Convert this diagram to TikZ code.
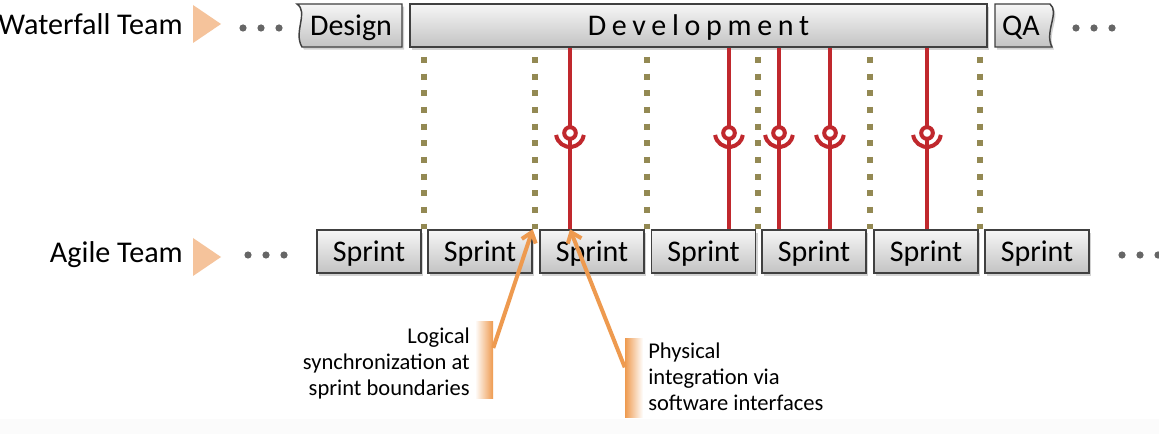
\documentclass[tikz,border=0pt]{standalone}
\usepackage{fontspec}
\setmainfont{Carlito}
\newfontfamily\spacedfont[LetterSpace=19]{Carlito}
\usetikzlibrary{arrows.meta,shadows}

\definecolor{boxline}{HTML}{404040}
\definecolor{boxtop}{HTML}{F6F6F6}
\definecolor{boxbot}{HTML}{C3C3C3}
\definecolor{syncol}{HTML}{938953}
\definecolor{intcol}{HTML}{C0282D}
\definecolor{callout}{HTML}{EE9A4F}
\definecolor{marker}{HTML}{F5C39B}
\definecolor{dotgray}{HTML}{666666}

\begin{document}
\begin{tikzpicture}[x=0.75pt,y=-0.75pt,
  boxshade/.style={draw=boxline, line width=1.1pt, top color=boxtop, bottom color=boxbot,
    drop shadow={shadow xshift=1.5pt, shadow yshift=-2pt, opacity=0.35}},
  boxtext/.style={font=\fontsize{22.5}{26}\selectfont, inner sep=0pt, text height=16.5pt, text depth=2pt},
  sprintbox/.style={boxshade, boxtext, minimum width=78pt, minimum height=32.25pt},
  teamlabel/.style={font=\fontsize{22.6}{26}\selectfont, inner sep=0pt, anchor=base east},
  calltext/.style={font=\fontsize{16.9}{19.5}\selectfont, inner sep=0pt},
  syncline/.style={draw=syncol, line width=4.5pt, dash pattern=on 4.5pt off 8pt},
  intline/.style={draw=intcol, line width=3pt},
  callarrow/.style={draw=callout, line width=3pt, -{Straight Barb[length=7pt, width=11pt, line width=3pt]}},
  bar/.style={minimum width=13.5pt, inner sep=0pt},
  marker/.style={fill=marker},
  moredots/.style={fill=dotgray}
]
% canvas
\useasboundingbox (0,0) rectangle (1159,434);
\fill[white] (0,0) rectangle (1159,434);
\fill[gray!3] (0,419) rectangle (1159,434);

% team labels with markers and ellipses
\node[teamlabel] (wf) at (183,35) {Waterfall Team};
\node[teamlabel] (ag) at (183,263) {Agile Team};
\fill[marker] (193,5) -- (221,24) -- (193,43) -- cycle;
\fill[marker] (193,238) -- (221,257) -- (193,276) -- cycle;
\foreach \x in {243,261,279} \fill[moredots] (\x,28) circle[radius=3.6];
\foreach \x in {1076,1094,1112} \fill[moredots] (\x,28) circle[radius=3.6];
\foreach \x in {248,266,284} \fill[moredots] (\x,255) circle[radius=3.6];
\foreach \x in {1122,1140,1158} \fill[moredots] (\x,255) circle[radius=3.6];

% waterfall phases
\path[boxshade] (297,4) .. controls (309,12) and (293,32) .. (302,47) -- (402,47) -- (402,4) -- cycle;
\node[boxtext] (design) at (351,25.5) {Design};
\node[boxshade, minimum width=432.75pt, minimum height=32.25pt, inner sep=0pt] (dev) at (698.5,25.5) {};
\node[boxtext, font=\fontsize{22.5}{26}\spacedfont] (devtext) at (698.5,25.5) {Development};
\path[boxshade] (995,4) -- (1050,4) .. controls (1060,12) and (1044,32) .. (1052,47) -- (995,47) -- cycle;
\node[boxtext] (qa) at (1021,25.5) {QA};

% sprints
\node[sprintbox] (s1) at (369,251.5) {Sprint};
\node[sprintbox] (s2) at (480,251.5) {Sprint};
\node[sprintbox] (s3) at (592,251.5) {Sprint};
\node[sprintbox] (s4) at (703.5,251.5) {Sprint};
\node[sprintbox] (s5) at (814,251.5) {Sprint};
\node[sprintbox] (s6) at (926,251.5) {Sprint};
\node[sprintbox] (s7) at (1037,251.5) {Sprint};

% logical synchronization at sprint boundaries
\foreach \x/\s in {424/s1,535/s2,647/s3,758/s4,870/s5,980/s6}
  \draw[syncline] (\x,57) -- (\x,0 |- \s.north);

% physical integration via interfaces (ball and socket)
\foreach \x/\s in {570/s3,729/s4,779/s5,830/s5,927/s6}{
  \draw[intline] (\x,0 |- dev.south) -- (\x,0 |- \s.north);
  \draw[intline, fill=white] (\x,133) circle[radius=5.8];
  \draw[intline] (\x,133) ++(172:14) arc[start angle=172, end angle=8, radius=14];
}

% callouts
\node[bar, minimum height=57pt, left color=white, right color=callout] (lgbar) at (484,360) {};
\node[bar, minimum height=58.5pt, left color=callout, right color=white] (phbar) at (634,378) {};
\node[calltext, anchor=east, align=right] (lg) at (470,363)
  {Logical\\synchronization at\\sprint boundaries};
\node[calltext, anchor=west, align=left] (ph) at (648,377)
  {Physical\\integration via\\software interfaces};
\draw[callarrow] ([yshift=9pt]lgbar.east) -- (s2.north east);
\draw[callarrow] ([yshift=8pt]phbar.west) -- (570,0 |- s3.north);
\end{tikzpicture}
\end{document}
